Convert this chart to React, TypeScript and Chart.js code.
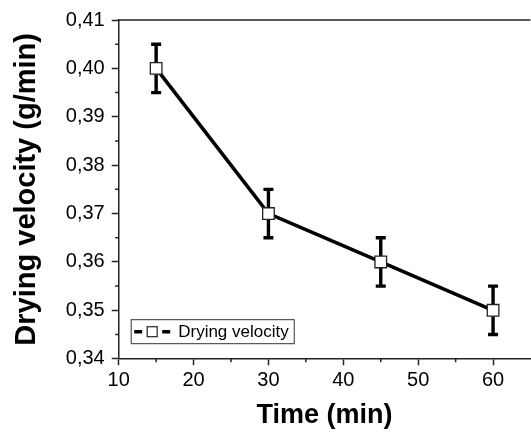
import React, { useEffect, useRef } from "react";
import { Chart, registerables } from "chart.js";

Chart.register(...registerables);

const timeMin = [15, 30, 45, 60];
const velocity = [0.4, 0.37, 0.36, 0.35];
const velocityErr = [0.005, 0.005, 0.005, 0.005];
const xMinorTicks = [15, 25, 35, 45, 55];
const yMinorTicks = [0.345, 0.355, 0.365, 0.375, 0.385, 0.395, 0.405];
const seriesLabel = "Drying velocity";
const xTitle = "Time (min)";
const yTitle = "Drying velocity (g/min)";

const FONT = "'Liberation Sans', Arial, sans-serif";
const AXIS = "#222";

const decorPlugin = {
  id: "decor",
  beforeDatasetsDraw(chart: any) {
    const ctx = chart.ctx;
    const xs = chart.scales.x;
    const ys = chart.scales.y;
    ctx.save();
    ctx.strokeStyle = "#000";
    ctx.lineWidth = 3.4;
    for (let i = 0; i < timeMin.length; i++) {
      const x = xs.getPixelForValue(timeMin[i]);
      const yT = ys.getPixelForValue(velocity[i] + velocityErr[i]);
      const yB = ys.getPixelForValue(velocity[i] - velocityErr[i]);
      ctx.beginPath();
      ctx.moveTo(x, yT);
      ctx.lineTo(x, yB);
      ctx.moveTo(x - 5, yT);
      ctx.lineTo(x + 5, yT);
      ctx.moveTo(x - 5, yB);
      ctx.lineTo(x + 5, yB);
      ctx.stroke();
    }
    ctx.restore();
  },
  afterDraw(chart: any) {
    const ctx = chart.ctx;
    const { left, right, top, bottom } = chart.chartArea;
    const xs = chart.scales.x;
    const ys = chart.scales.y;
    ctx.save();
    ctx.strokeStyle = AXIS;
    ctx.lineWidth = 1.5;
    // top frame line
    ctx.beginPath();
    ctx.moveTo(left - 0.75, top);
    ctx.lineTo(right, top);
    ctx.stroke();
    // minor ticks
    ctx.beginPath();
    for (const v of xMinorTicks) {
      const x = xs.getPixelForValue(v);
      ctx.moveTo(x, bottom);
      ctx.lineTo(x, bottom + 3.5);
    }
    for (const v of yMinorTicks) {
      const y = ys.getPixelForValue(v);
      ctx.moveTo(left, y);
      ctx.lineTo(left - 3.5, y);
    }
    ctx.stroke();

    // legend
    const bx = left + 12;
    const by = bottom - 39.5;
    const bh = 24;
    ctx.font = `17px ${FONT}`;
    const tw = ctx.measureText(seriesLabel).width;
    const bw = 3.5 + 36 + 8 + tw + 5;
    ctx.lineWidth = 1;
    ctx.strokeStyle = "#333";
    ctx.fillStyle = "#fff";
    ctx.fillRect(bx, by, bw, bh);
    ctx.strokeRect(bx + 0.5, by + 0.5, bw, bh);
    const cy = by + bh / 2 + 0.5;
    const sx = bx + 3.5;
    ctx.strokeStyle = "#000";
    ctx.lineWidth = 3.4;
    ctx.beginPath();
    ctx.moveTo(sx, cy);
    ctx.lineTo(sx + 8, cy);
    ctx.moveTo(sx + 28, cy);
    ctx.lineTo(sx + 36, cy);
    ctx.stroke();
    ctx.lineWidth = 1.2;
    ctx.strokeStyle = "#222";
    ctx.fillStyle = "#fff";
    ctx.fillRect(sx + 13, cy - 5, 10, 10);
    ctx.strokeRect(sx + 13, cy - 5, 10, 10);
    ctx.fillStyle = "#000";
    ctx.textBaseline = "middle";
    ctx.textAlign = "left";
    ctx.fillText(seriesLabel, sx + 44, cy + 1);
    ctx.restore();
  },
};

export default function App() {
  const ref = useRef<HTMLCanvasElement | null>(null);

  useEffect(() => {
    if (!ref.current) return;
    Chart.defaults.font.family = FONT;
    const chart = new Chart(ref.current, {
      type: "line",
      data: {
        datasets: [
          {
            label: seriesLabel,
            data: timeMin.map((t, i) => ({ x: t, y: velocity[i] })),
            borderColor: "#000",
            borderWidth: 3.6,
            tension: 0,
            pointStyle: "rect",
            pointRadius: 8.2,
            pointBackgroundColor: "#fff",
            pointBorderColor: "#222",
            pointBorderWidth: 1.3,
            clip: false as any,
          },
        ],
      },
      options: {
        animation: false,
        responsive: false,
        maintainAspectRatio: false,
        layout: { padding: { left: 10, right: 4, top: 20, bottom: 0 } },
        plugins: {
          legend: { display: false },
          tooltip: { enabled: false },
        },
        scales: {
          x: {
            type: "linear",
            min: 10,
            max: 65,
            ticks: {
              stepSize: 10,
              includeBounds: false,
              color: "#000",
              font: { size: 20, family: FONT },
              padding: 3,
              maxRotation: 0,
            },
            grid: {
              display: true,
              drawOnChartArea: false,
              drawTicks: true,
              tickLength: 6.5,
              tickWidth: 1.5,
              tickColor: AXIS,
            },
            border: { display: true, color: AXIS, width: 1.5 },
            title: {
              display: true,
              text: xTitle,
              color: "#000",
              font: { size: 27, weight: "bold", family: FONT },
              padding: { top: 0, bottom: 0 },
            },
            afterFit: (s: any) => {
              s.height = 73.3;
            },
          },
          y: {
            type: "linear",
            min: 0.34,
            max: 0.41,
            ticks: {
              stepSize: 0.01,
              color: "#000",
              font: { size: 20, family: FONT },
              padding: 7,
              callback: (v: any) => Number(v).toFixed(2).replace(".", ","),
            },
            grid: {
              display: true,
              drawOnChartArea: false,
              drawTicks: true,
              tickLength: 7,
              tickWidth: 1.5,
              tickColor: AXIS,
            },
            border: { display: true, color: AXIS, width: 1.5 },
            title: {
              display: true,
              text: yTitle,
              color: "#000",
              font: { size: 29, weight: "bold", family: FONT },
              padding: { top: 0, bottom: 0 },
            },
            afterFit: (s: any) => {
              s.width = 108.7;
            },
          },
        },
      } as any,
      plugins: [decorPlugin],
    });
    return () => chart.destroy();
  }, []);

  return (
    <div
      style={{
        position: "fixed",
        left: 0,
        top: 0,
        width: 531,
        height: 432,
        overflow: "hidden",
        background: "#fff",
      }}
    >
      <canvas ref={ref} width={540} height={432} style={{ width: 540, height: 432, display: "block" }} />
    </div>
  );
}
